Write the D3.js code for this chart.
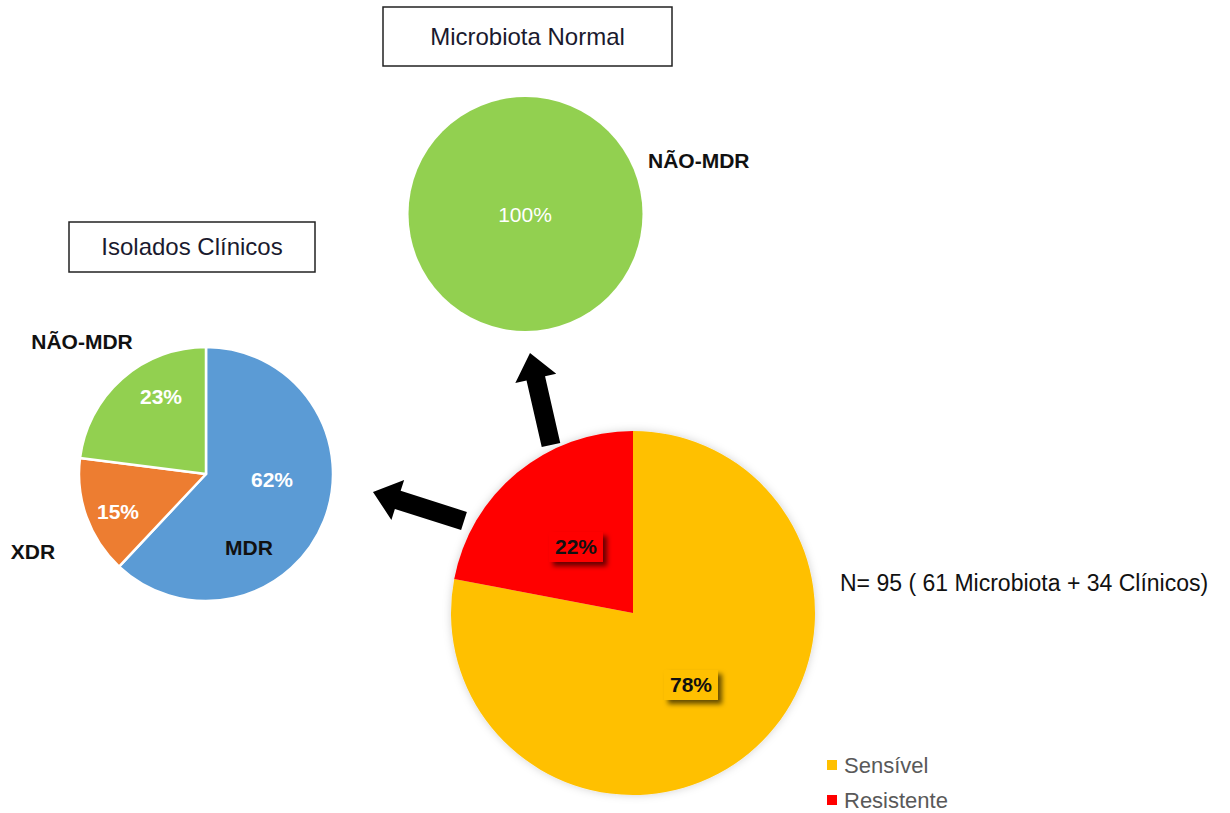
<!DOCTYPE html>
<html><head><meta charset="utf-8">
<script src="https://cdn.jsdelivr.net/npm/d3@7"></script>
<style>body{margin:0;background:#fff}svg{display:block;font-family:"Liberation Sans",Arial,sans-serif}</style>
</head><body><svg id="c" width="1230" height="813"></svg>
<script>
const mainCategories = ["Sensível", "Resistente"];
const mainValues = [78, 22];
const mainColors = ["#FFC000", "#FF0000"];

const clinicalCategories = ["MDR", "XDR", "NÃO-MDR"];
const clinicalValues = [62, 15, 23];
const clinicalColors = ["#5B9BD5", "#ED7D31", "#92D050"];

const microbiotaCategories = ["NÃO-MDR"];
const microbiotaValues = [100];
const microbiotaColors = ["#92D050"];

const svg = d3.select("#c");
const defs = svg.append("defs");
const f = defs.append("filter").attr("id","lblShadow").attr("x","-30%").attr("y","-30%").attr("width","170%").attr("height","180%");
f.append("feDropShadow").attr("dx",4).attr("dy",4).attr("stdDeviation",2.5).attr("flood-color","#000").attr("flood-opacity",0.6);
const g2 = defs.append("filter").attr("id","pieGlow").attr("x","-10%").attr("y","-10%").attr("width","120%").attr("height","120%");
g2.append("feDropShadow").attr("dx",0).attr("dy",0).attr("stdDeviation",4).attr("flood-color","#000").attr("flood-opacity",0.18);

const pie = d3.pie().sort(null).value(d => d);

function drawPie(cx, cy, r, values, colors, stroke, glow) {
  const g = svg.append("g").attr("transform", `translate(${cx},${cy})`);
  if (glow) g.attr("filter","url(#pieGlow)");
  const arc = d3.arc().innerRadius(0).outerRadius(r);
  g.selectAll("path").data(pie(values)).join("path")
    .attr("d", arc).attr("fill", (d,i) => colors[i])
    .attr("stroke", stroke ? "#fff" : "none").attr("stroke-width", stroke ? 2.5 : 0)
    .attr("stroke-linejoin","round");
  return {g, arc};
}

// Titles
function titleBox(x, y, w, h, text) {
  svg.append("rect").attr("x", x).attr("y", y).attr("width", w).attr("height", h)
    .attr("fill", "#fff").attr("stroke", "#222").attr("stroke-width", 1.5);
  svg.append("text").attr("x", x + w/2).attr("y", y + h/2).attr("dy","0.35em")
    .attr("text-anchor","middle").attr("font-size", 24).attr("fill","#1a1a2e").text(text);
}
titleBox(383, 7, 289, 59, "Microbiota Normal");
titleBox(69, 222, 246, 50, "Isolados Clínicos");

// Microbiota pie
drawPie(525.5, 214, 117, microbiotaValues, microbiotaColors, false, false);
svg.append("text").attr("x", 525).attr("y", 215).attr("dy","0.35em").attr("text-anchor","middle")
  .attr("font-size", 21).attr("fill","#fff").text(microbiotaValues[0] + "%");
svg.append("text").attr("x", 648).attr("y", 161).attr("dy","0.35em")
  .attr("font-size", 21).attr("font-weight","bold").attr("fill","#111").text(microbiotaCategories[0]);

// Clinical pie
drawPie(206, 474, 127, clinicalValues, clinicalColors, true, false);
const clinPct = [[272, 480], [118, 512], [161, 397]];
clinicalValues.forEach((v, i) => {
  svg.append("text").attr("x", clinPct[i][0]).attr("y", clinPct[i][1]).attr("dy","0.35em")
    .attr("text-anchor","middle").attr("font-size", 21).attr("font-weight","bold").attr("fill","#fff").text(v + "%");
});
const clinLbl = [[249, 548], [33, 552], [82, 342]];
clinicalCategories.forEach((c, i) => {
  svg.append("text").attr("x", clinLbl[i][0]).attr("y", clinLbl[i][1]).attr("dy","0.35em")
    .attr("text-anchor","middle").attr("font-size", 21).attr("font-weight","bold").attr("fill","#111").text(c);
});

// Main pie
drawPie(633, 613, 182, mainValues, mainColors, false, true);
const mainPct = [[691, 685], [576, 547]];
mainValues.forEach((v, i) => {
  const [x, y] = mainPct[i];
  svg.append("rect").attr("x", x - 27).attr("y", y - 15).attr("width", 54).attr("height", 30)
    .attr("fill", mainColors[i]).attr("filter","url(#lblShadow)");
  svg.append("text").attr("x", x).attr("y", y).attr("dy","0.35em").attr("text-anchor","middle")
    .attr("font-size", 21).attr("font-weight","bold").attr("fill","#111").text(v + "%");
});

// N text
svg.append("text").attr("x", 840).attr("y", 583).attr("dy","0.35em")
  .attr("font-size", 23).attr("fill","#111").text("N= 95 ( 61 Microbiota + 34 Clínicos)");

// Legend
mainCategories.forEach((c, i) => {
  const y = 765 + i * 35;
  svg.append("rect").attr("x", 827).attr("y", y - 5).attr("width", 10).attr("height", 10).attr("fill", mainColors[i]);
  svg.append("text").attr("x", 844).attr("y", y).attr("dy","0.35em")
    .attr("font-size", 22).attr("fill","#595959").text(c);
});

// Arrows
function arrow(x0, y0, x1, y1) {
  const dx = x1 - x0, dy = y1 - y0, L = Math.hypot(dx, dy);
  const ang = Math.atan2(dy, dx) * 180 / Math.PI;
  const sw = 19, hw = 42, hl = 26;
  const pts = [[0, -sw/2], [L - hl, -sw/2], [L - hl, -hw/2], [L, 0], [L - hl, hw/2], [L - hl, sw/2], [0, sw/2]];
  svg.append("polygon").attr("points", pts.map(p => p.join(",")).join(" "))
    .attr("transform", `translate(${x0},${y0}) rotate(${ang})`).attr("fill", "#000");
}
arrow(551, 445, 530, 353);
arrow(464, 521, 373, 492);
</script></body></html>
